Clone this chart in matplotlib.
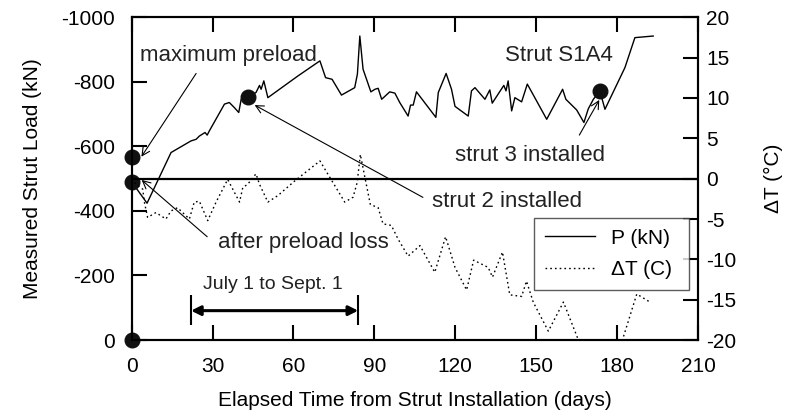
import numpy as np
import matplotlib.pyplot as plt

plt.rcParams['font.family'] = ['Liberation Sans', 'DejaVu Sans']
plt.rcParams['axes.unicode_minus'] = False

# strut load P (kN), compression negative
days_p = [0, 5.7, 14.6, 22.0, 23.9, 25.1, 27.2, 28.0, 28.8, 34.4, 36.2, 38.1, 39.7, 40.6,
          43.0, 46.1, 47.4, 48.0, 49.0, 50.5, 61.6, 69.8, 71.9, 74.3, 77.8, 82.7, 83.7,
          84.6, 85.8, 88.7, 90.2, 91.4, 92.7, 95.7, 97.6, 99.4, 102.5, 103.4, 104.4, 105.6,
          112.8, 113.7, 116.6, 118.6, 119.9, 124.8, 126.0, 127.3, 131.0, 132.8, 133.7,
          138.0, 138.8, 139.6, 140.9, 142.1, 144.6, 146.7, 148.3, 153.9, 159.8, 161.0,
          165.0, 167.7, 169.3, 171.2, 173.6, 175.5, 182.9, 186.6, 193.4]
load_p = [-490, -424, -581, -617, -622, -632, -643, -635, -648, -731, -736, -720, -705, -746,
          -753, -767, -789, -777, -803, -751, -818, -865, -813, -808, -759, -782, -824,
          -942, -839, -769, -777, -780, -746, -769, -765, -736, -694, -728, -728, -769,
          -690, -767, -826, -777, -724, -694, -772, -782, -746, -775, -734,
          -789, -772, -803, -710, -751, -738, -793, -769, -684, -777, -746,
          -713, -674, -716, -746, -772, -715, -844, -937, -942]

# temperature change dT (C)
days_t = [1, 4.1, 4.7, 5.9, 9, 12.7, 14.6, 17, 21.4, 23.2, 25.1, 28.2, 31.3, 35.6, 38.1, 40,
          41.2, 43, 46.1, 47.4, 50.5, 54.2, 60.4, 69.8, 79, 82.1, 83.6, 84.8, 86.4, 88.5,
          91.4, 93.2, 96.3, 98.8, 102.5, 106.9, 112.4, 116.4, 119.9, 124.2, 126.8, 132.2,
          133.8, 137.5, 140.2, 144.6, 146.4, 148.9, 154.5, 160.1, 166, 172, 178, 181.7,
          187.3, 192.2]
temp_t = [-0.5, -1.3, -2.9, -4.8, -4.2, -5.0, -4.0, -3.6, -5.0, -2.9, -2.8, -5.2, -2.9, -0.1,
          -1.7, -2.9, -1.1, -0.7, 0.6, -0.7, -2.9, -2.1, -0.3, 2.2, -2.9, -2.3, -0.5, 3.0,
          0.3, -3.2, -3.6, -5.6, -5.8, -7.5, -9.6, -8.3, -11.6, -7.2, -11.0, -13.8, -10.1,
          -11.0, -12.2, -9.1, -14.4, -14.6, -12.7, -15.3, -18.9, -15.3, -20.3, -23, -23,
          -20.3, -14.3, -15.3]

# key events (day, load)
event_days = [0, 0, 43, 173.6, 0]
event_load = [-566, -490, -753, -772, 0]

xticks = np.arange(0, 211, 30)
yticks = [-1000, -800, -600, -400, -200, 0]
tticks = np.arange(-20, 21, 5)

fig = plt.figure(figsize=(8.01, 4.19), dpi=100)
ax = fig.add_axes([0.1644, 0.1885, 0.7070, 0.7702])
ax2 = ax.twinx()

line_p, = ax.plot(days_p, load_p, color='black', lw=1.0, label='P (kN)')
line_t, = ax2.plot(days_t, temp_t, color='black', lw=1.0, linestyle=(0, (1.2, 2.2)),
                   label='ΔT (C)')
ax2.axhline(0, color='black', lw=1.6)
ax.plot(event_days, event_load, 'o', color='#111111', ms=10.5, clip_on=False, zorder=10)

ax.set_xlim(0, 210)
ax.set_ylim(0, -1000)
ax2.set_ylim(-20, 20)
ax.set_xticks(xticks)
ax.set_yticks(yticks)
ax2.set_yticks(tticks)

for a in (ax, ax2):
    a.tick_params(direction='in', length=11, width=1.5, labelsize=15)
    for s in a.spines.values():
        s.set_linewidth(1.5)
ax.tick_params(top=True)
ax.tick_params(axis='x', pad=12)
ax.tick_params(axis='y', pad=12)
ax2.tick_params(axis='y', pad=6)

ax.set_xlabel('Elapsed Time from Strut Installation (days)', fontsize=15, labelpad=11)
ax.set_ylabel('Measured Strut Load (kN)', fontsize=15, labelpad=14)
ax2.set_ylabel('ΔT (°C)', fontsize=15, labelpad=20)

arrow = dict(arrowstyle='->', lw=0.8, color='black', shrinkA=0, shrinkB=0,
             mutation_scale=14)
ax.annotate('', xy=(3.6, -568), xytext=(23.9, -826), arrowprops=arrow)
ax.annotate('', xy=(3.7, -496), xytext=(28, -320), arrowprops=arrow)
ax.annotate('', xy=(45.6, -728), xytext=(108, -442), arrowprops=arrow)
ax.annotate('', xy=(173.4, -744), xytext=(166, -635), arrowprops=arrow)

tk = dict(fontsize=16, ha='center', va='center', color='#222222')
ax.text(35.7, -883, 'maximum preload', **tk)
ax.text(63.5, -301, 'after preload loss', **tk)
ax.text(139, -428, 'strut 2 installed', **tk)
ax.text(147.6, -573, 'strut 3 installed', **tk)
ax.text(158.6, -883, 'Strut S1A4', **tk)
ax.text(52.3, -172, 'July 1 to Sept. 1', fontsize=14, ha='center', va='center',
        color='#222222')

# July 1 to Sept. 1 span
span = [22, 84]
ax.annotate('', xy=(span[0], -91), xytext=(span[1], -91),
            arrowprops=dict(arrowstyle='<|-|>', lw=2.2, color='black',
                            shrinkA=0, shrinkB=0, mutation_scale=14))
ax.vlines(span, -140, -47, color='black', lw=1.5)

leg = ax2.legend(handles=[line_p, line_t], loc='upper left',
                 bbox_to_anchor=(0.711, 0.1416, 0.273, 0.2354), mode='expand',
                 fontsize=15, frameon=True, fancybox=False, borderpad=0.5,
                 handlelength=2.4, labelspacing=0.6, borderaxespad=0)
leg.get_frame().set_edgecolor('#333333')
leg.get_frame().set_linewidth(1.0)

fig.savefig('out.png', dpi=100)
